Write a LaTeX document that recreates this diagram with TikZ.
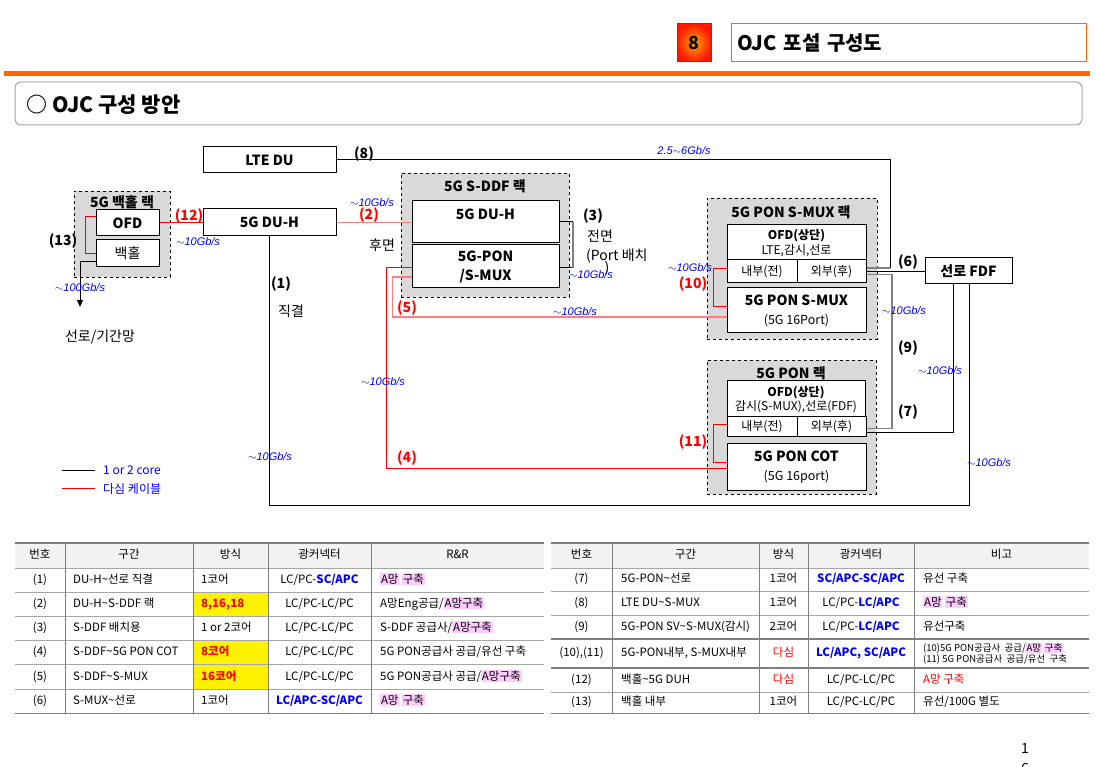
\documentclass[tikz,border=0pt]{standalone}
\usepackage{fontspec}
\setmainfont{Noto Sans CJK KR}
\newfontfamily\speedfont{Liberation Sans}
\usetikzlibrary{positioning}
\usetikzlibrary{arrows.meta}

\definecolor{hdrorange}{HTML}{FF6600}
\definecolor{rackgray}{HTML}{D9D9D9}
\definecolor{linkpink}{HTML}{FF7F7F}
\definecolor{spdblue}{HTML}{0000FF}
\definecolor{tblhead}{HTML}{F2F2F2}
\definecolor{tblline}{HTML}{A6A6A6}
\definecolor{tbldark}{HTML}{7F7F7F}
\definecolor{hlpink}{HTML}{FFCCFF}

\newcommand{\hlp}[1]{{\setlength{\fboxsep}{0.8pt}\colorbox{hlpink}{#1}}}
\newcommand{\cblue}[1]{\textcolor{spdblue}{\bfseries #1}}
\newcommand{\cred}[1]{\textcolor{red}{\bfseries #1}}
\newcommand{\spd}{$\sim$10Gb/s}
\newcommand{\twoline}[2]{\smash{\begin{tabular}[c]{@{}l@{}}#1\\#2\end{tabular}}}

\tikzset{
        % Header pieces
        hdr_num/.style={draw=red, line width=1pt, inner color=orange!70!yellow, outer color=red!80!orange, minimum width=34, minimum height=38, font=\bfseries\fontsize{18}{20}\selectfont},
        hdr_title/.style={draw=hdrorange, line width=1pt, fill=white, minimum width=355, minimum height=38, text width=342, align=left, inner sep=0pt, font=\bfseries\fontsize{20}{22}\selectfont},
        topic_box/.style={draw=gray!70, line width=1pt, rounded corners=6, minimum width=1067, minimum height=43},
        % Equipment boxes
        box/.style={draw=black, line width=1pt, fill=white, inner sep=0pt, align=center, font=\bfseries\fontsize{14}{19}\selectfont},
        box_text/.style={inner sep=0pt, font=\bfseries\fontsize{14}{16}\selectfont},
        ofd_text/.style={inner sep=0pt, align=center, font=\fontsize{12}{14.5}\selectfont},
        port_box/.style={draw=black, line width=1pt, fill=white, inner sep=0pt, font=\fontsize{12}{13}\selectfont},
        % Rack frames
        rack/.style={draw=black, line width=0.9pt, dashed, fill=rackgray, inner sep=0pt},
        rack_title/.style={inner sep=0pt, font=\bfseries\fontsize{14}{16}\selectfont},
        % Labels
        num_lbl/.style={inner sep=0pt, font=\bfseries\fontsize{14}{16}\selectfont},
        num_red/.style={num_lbl, text=red},
        speed/.style={inner sep=0pt, text=spdblue, font=\speedfont\itshape\fontsize{11}{12}\selectfont},
        note/.style={inner sep=0pt, font=\fontsize{14}{16}\selectfont},
        legend_txt/.style={inner sep=0pt, anchor=west, text=spdblue, font=\fontsize{12}{14}\selectfont},
        % Connectors
        line_core/.style={draw=black, line width=1pt},
        line_gray/.style={draw=gray, line width=1.6pt},
        line_multi/.style={draw=red, line width=1pt},
        line_multi_lt/.style={draw=linkpink, line width=1.6pt},
        % Tables
        cell/.style={inner sep=0pt, text height=9pt, text depth=2.5pt, align=left, font=\fontsize{11.5}{13}\selectfont},
        tbl_outer/.style={draw=tbldark, line width=1.4pt},
        tbl_row/.style={draw=tblline, line width=0.8pt},
        tbl_col/.style={draw=tbldark, line width=1pt}
}

\begin{document}
\begin{tikzpicture}[x=1pt, y=-1pt]
\useasboundingbox (0,0) rectangle (1096,767);

% title bar
\node[hdr_num] (sec_num) at (694,43) {8};
\node[hdr_title] (sec_title) at (908.5,43) {OJC 포설 구성도};
\fill[hdrorange] (4,71) rectangle (1090,76);
\node[topic_box] (topic) at (548.5,103.5) {};
\node[anchor=west, inner sep=0pt, font=\bfseries\fontsize{21}{23}\selectfont] (topic_txt) at (26,105) {○ OJC 구성 방안};

% racks
\node[rack, minimum width=96, minimum height=86] (bh_rack) at (122,234) {};
\node[rack, minimum width=168, minimum height=124] (sddf_rack) at (485,235) {};
\node[rack, minimum width=170, minimum height=141] (smux_rack) at (792,268.5) {};
\node[rack, minimum width=169, minimum height=134] (pon_rack) at (791.5,427) {};
\node[rack_title] (bh_title) at (122,202) {5G 백홀 랙};
\node[rack_title] (sddf_title) at (485,186) {5G S-DDF 랙};
\node[rack_title] (smux_title) at (791,212) {5G PON S-MUX 랙};
\node[rack_title] (pon_title) at (791,373) {5G PON 랙};

% equipment
\node[box, minimum width=63, minimum height=26] (bh_ofd) at (127.5,223) {OFD};
\node[box, minimum width=63, minimum height=27, font=\fontsize{14}{16}\selectfont] (bh_main) at (127.5,253.5) {백홀};
\node[box, minimum width=133, minimum height=26] (lte) at (269.5,160) {LTE DU};
\node[box, minimum width=133, minimum height=27] (duh) at (269.5,222.5) {5G DU-H};
\node[box, minimum width=147, minimum height=42] (sddf_duh) at (485.5,222) {};
\node[box_text] (sddf_duh_txt) at (485.5,214) {5G DU-H};
\node[box, minimum width=147, minimum height=43] (sddf_pon) at (485.5,266.5) {5G-PON\\/S-MUX};

\node[box, minimum width=139, minimum height=35] (smux_ofd) at (796.5,242.5) {};
\node[ofd_text] (smux_ofd_txt) at (796.5,243) {\textbf{OFD(상단)}\\LTE,감시,선로};
\node[port_box, minimum width=70, minimum height=23] (smux_in) at (762,271.5) {내부(전)};
\node[port_box, minimum width=69, minimum height=23] (smux_out) at (831.5,271.5) {외부(후)};
\node[box, minimum width=139, minimum height=45] (smux) at (796.5,310.5) {5G PON S-MUX\\{\mdseries\fontsize{12.5}{14}\selectfont (5G 16Port)}};

\node[box, minimum width=87, minimum height=26] (fdf) at (968.5,271) {선로 FDF};

\node[box, minimum width=138, minimum height=36] (pon_ofd) at (796,399) {};
\node[ofd_text] (pon_ofd_txt) at (796,399.5) {\textbf{OFD(상단)}\\감시(S-MUX),선로(FDF)};
\node[port_box, minimum width=70, minimum height=20] (pon_in) at (762,427) {내부(전)};
\node[port_box, minimum width=69, minimum height=20] (pon_out) at (831.5,427) {외부(후)};
\node[box, minimum width=139, minimum height=46] (cot) at (796.5,467) {5G PON COT\\{\mdseries\fontsize{12.5}{14}\selectfont (5G 16port)}};

% turning points
\coordinate (c8_turn) at (890,268);
\coordinate (c9_col) at (892,350);
\coordinate (bottom_run) at (0,505);
\coordinate (trunk_end) at (80,307);

% connectors
\draw[line_core] (lte) -- (890,160) -- (c8_turn);
\draw[line_gray] (c8_turn) -- ([yshift=3.5pt]smux_out.east);
\draw[line_core] (smux_out.east) -- (smux_out.east -| fdf.west);
\draw[line_gray] ([yshift=-3pt]smux_out.east) -| (c9_col) |- ([yshift=-1.5pt]pon_out.east);
\draw[line_core] ([yshift=-6pt]pon_out.east) -| ([xshift=-15.5pt]fdf.south);
\draw[line_core] (duh.south) |- ([xshift=1pt]fdf.south |- bottom_run) -- ([xshift=1pt]fdf.south);
\draw[line_multi] (bh_ofd.east) -- (bh_ofd.east -| duh.west);
\draw[line_multi] ([yshift=6pt]bh_ofd.west) -- ++(-10,0) |- (bh_main.west);
\draw[line_core, -{Triangle[length=7pt,width=6pt]}] ([yshift=-8.5pt]bh_main.west) -| (trunk_end);
\draw[line_multi_lt] (duh.east) -- (duh.east -| sddf_duh.west);
\draw[line_core] (sddf_duh.east) -- ++(13,0);
\draw[line_core] ([yshift=-1.5pt]sddf_pon.east) -- ++(13,0);
\draw[line_gray] ([xshift=13.5pt]sddf_duh.east) -- ([xshift=13.5pt,yshift=-1.5pt]sddf_pon.east);
\draw[line_multi_lt] ([yshift=-10.5pt]sddf_pon.west) -- ++(-19,0) |- ([yshift=-6.5pt]smux.west);
\draw[line_multi] ([yshift=-1.5pt]sddf_pon.west) -- ++(-25,0) |- ([yshift=-1pt]cot.west);
\draw[line_multi] ([yshift=2.5pt]smux_in.west) -- ++(-13,0) |- ([yshift=3.5pt]smux.west);
\draw[line_multi] ([yshift=2pt]pon_in.west) -- ++(-13,0) |- ([yshift=4pt]cot.west);

% labels
\node[num_lbl] (lbl8) at (364,154) {(8)};
\node[speed] (spd8) at (684,151) {2.5$\sim$6Gb/s};
\node[num_red] (lbl12) at (189,216) {(12)};
\node[speed] (spd12) at (198,242) {\spd};
\node[num_lbl] (lbl13) at (63,241) {(13)};
\node[speed] (spd13) at (80,288) {$\sim$100Gb/s};
\node[note] (trunk_txt) at (100,337) {선로/기간망};
\node[num_red] (lbl2) at (369,215) {(2)};
\node[speed] (spd2) at (372,203) {\spd};
\node[note] (rear_txt) at (382,245) {후면};
\node[num_lbl] (lbl3) at (593,216) {(3)};
\node[note] (front_txt) at (600,236) {전면};
\node[note, anchor=west] (port_txt) at (586,256) {(Port 배치};
\node[note] (port_close) at (607,268) {)};
\node[speed] (spd3) at (591,275) {\spd};
\node[num_red] (lbl5) at (407,308) {(5)};
\node[speed] (spd5) at (575,312) {\spd};
\node[num_lbl] (lbl1) at (281,284) {(1)};
\node[note] (direct_txt) at (291,311) {직결};
\node[speed] (spd4) at (383,382) {\spd};
\node[num_red] (lbl4) at (407,458) {(4)};
\node[speed] (spd1) at (270,457) {\spd};
\node[speed] (spd10) at (690,268) {\spd};
\node[num_red] (lbl10) at (693,284) {(10)};
\node[num_lbl] (lbl6) at (908,262) {(6)};
\node[speed] (spd9) at (904,311) {\spd};
\node[num_lbl] (lbl9) at (908,348) {(9)};
\node[speed] (spd7) at (940,371) {\spd};
\node[num_lbl] (lbl7) at (908,412) {(7)};
\node[num_red] (lbl11) at (693,442) {(11)};
\node[speed] (spd1b) at (989,463) {\spd};

% legend
\coordinate (leg_core) at (62,470);
\coordinate (leg_multi) at (62,488);
\draw[line_core] (leg_core) -- ++(33,0);
\draw[line_multi] (leg_multi) -- ++(33,0);
\node[legend_txt] (leg_core_txt) at (103,470) {1 or 2 core};
\node[legend_txt] (leg_multi_txt) at (103,489) {다심 케이블};

% left table
\fill[tblhead] (15,543) rectangle (544,568);
\foreach \r in {2,4,5}
    \fill[yellow] (193,{568+24.2*(\r-1)}) rectangle (268,{568+24.2*\r});
\draw[tbl_outer] (15,543) -- (544,543);
\foreach \k in {0,...,5}
    \draw[tbl_row] (15,{568+24.2*\k}) -- (544,{568+24.2*\k});
\draw[tbl_outer] (15,713.2) -- (544,713.2);
\foreach \cx in {65,193,268,371}
    \draw[tbl_col] (\cx,543) -- (\cx,713.2);
\foreach \hx/\htxt [count=\h] in {40/번호,129/구간,230.5/방식,319.5/광커넥터,457.5/R\&R}
    \node[cell] (lt_head\h) at (\hx,555.5) {\htxt};
\foreach \num/\sect/\meth/\conn/\rnr [count=\r] in {
    (1)/{DU-H\textasciitilde 선로 직결}/1코어/{LC/PC-\cblue{SC/APC}}/{\hlp{A망} \hlp{구축}},
    (2)/{DU-H\textasciitilde S-DDF 랙}/{\cred{8,16,18}}/{LC/PC-LC/PC}/{A망Eng공급/\hlp{A망구축}},
    (3)/{S-DDF 배치용}/{1 or 2코어}/{LC/PC-LC/PC}/{S-DDF 공급사/\hlp{A망구축}},
    (4)/{S-DDF\textasciitilde 5G PON COT}/{\cred{8코어}}/{LC/PC-LC/PC}/{5G PON공급사 공급/유선 구축},
    (5)/{S-DDF\textasciitilde S-MUX}/{\cred{16코어}}/{LC/PC-LC/PC}/{5G PON공급사 공급/\hlp{A망구축}},
    (6)/{S-MUX\textasciitilde 선로}/1코어/{\cblue{LC/APC-SC/APC}}/{\hlp{A망} \hlp{구축}}
}{
    \pgfmathsetmacro{\yc}{555.9+24.2*\r}
    \node[cell] (lt_num\r) at (40,\yc) {\num};
    \node[cell, anchor=west] (lt_sec\r) at (73,\yc) {\sect};
    \node[cell, anchor=west] (lt_way\r) at (201,\yc) {\meth};
    \node[cell] (lt_conn\r) at (319.5,\yc) {\conn};
    \node[cell, anchor=west] (lt_rr\r) at (380,\yc) {\rnr};
}

% right table
\fill[tblhead] (551,543) rectangle (1089,568);
\draw[tbl_outer] (551,543) -- (1089,543);
\foreach \ly in {568,591,615}
    \draw[tbl_row] (551,\ly) -- (1089,\ly);
\foreach \ly in {639,668}
    \draw[tbl_outer] (551,\ly) -- (1089,\ly);
\draw[tbl_row] (551,692) -- (1089,692);
\draw[tbl_outer] (551,713.2) -- (1089,713.2);
\foreach \cx in {612,759,808,914}
    \draw[tbl_col] (\cx,543) -- (\cx,713.2);
\foreach \hx/\htxt [count=\h] in {581.5/번호,685.5/구간,783.5/방식,861/광커넥터,1001.5/비고}
    \node[cell] (rt_head\h) at (\hx,555.5) {\htxt};
\foreach \yc/\num/\sect/\meth/\conn/\rem [count=\r] in {
    579.5/(7)/{5G-PON\textasciitilde 선로}/1코어/{\cblue{SC/APC-SC/APC}}/{유선 구축},
    603/(8)/{LTE DU\textasciitilde S-MUX}/1코어/{LC/PC-\cblue{LC/APC}}/{\hlp{A망} \hlp{구축}},
    627/(9)/{5G-PON SV\textasciitilde S-MUX(감시)}/2코어/{LC/PC-\cblue{LC/APC}}/{유선구축},
    653.5/{(10),(11)}/{5G-PON내부, S-MUX내부}/{\textcolor{red}{다심}}/{\cblue{LC/APC, SC/APC}}/{\fontsize{9.5}{11.5}\selectfont\twoline{(10)5G PON공급사\ \ 공급/\hlp{A망} \hlp{구축}}{(11) 5G PON공급사\ \ 공급/유선\ \ 구축}},
    680/(12)/{백홀\textasciitilde 5G DUH}/{\textcolor{red}{다심}}/{LC/PC-LC/PC}/{\textcolor{red}{A망 구축}},
    702.5/(13)/{백홀 내부}/1코어/{LC/PC-LC/PC}/{유선/100G 별도}
}{
    \node[cell] (rt_num\r) at (581.5,\yc) {\num};
    \node[cell, anchor=west] (rt_sec\r) at (621,\yc) {\sect};
    \node[cell] (rt_way\r) at (783.5,\yc) {\meth};
    \node[cell] (rt_conn\r) at (861,\yc) {\conn};
    \node[cell, anchor=west] (rt_rem\r) at (923,\yc) {\rem};
}

% page number
\node[inner sep=0pt, font=\fontsize{14}{16}\selectfont] (page_a) at (1025,749) {1};
\node[inner sep=0pt, font=\fontsize{14}{16}\selectfont] (page_b) at (1025,769) {6};
\end{tikzpicture}
\end{document}
